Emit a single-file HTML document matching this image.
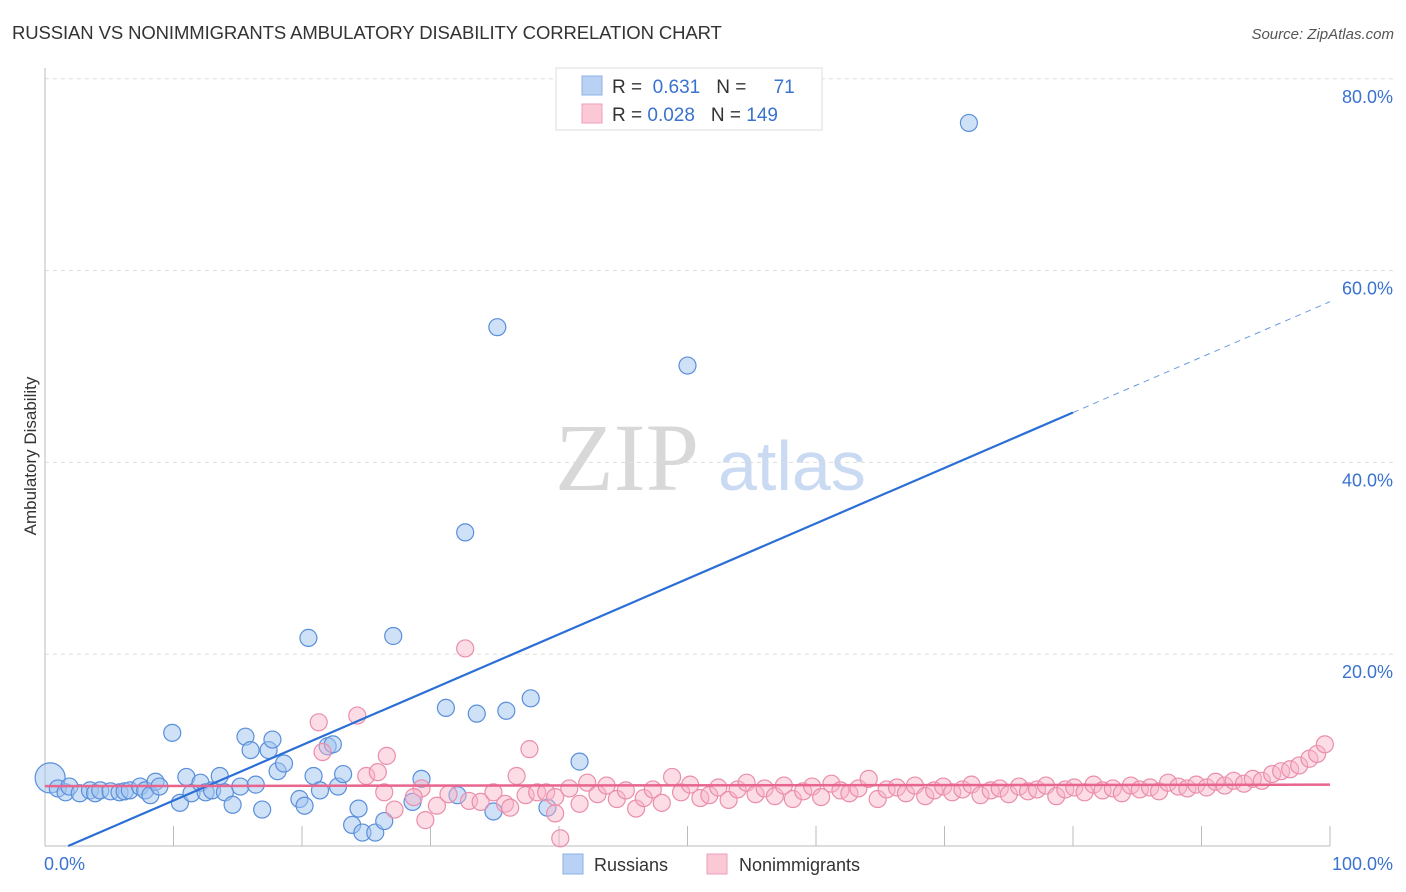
<!DOCTYPE html>
<html><head><meta charset="utf-8"><style>
body{margin:0;background:#fff;font-family:"Liberation Sans",sans-serif}
#c{position:relative;width:1406px;height:892px;overflow:hidden}
</style></head><body>
<div id="c">
<svg id="s" width="1406" height="892" xmlns="http://www.w3.org/2000/svg">
<text x="12" y="39" font-size="18.5" fill="#333" letter-spacing="-0.1">RUSSIAN VS NONIMMIGRANTS AMBULATORY DISABILITY CORRELATION CHART</text>
<text x="1394" y="39" font-size="15" fill="#555" font-style="italic" text-anchor="end">Source: ZipAtlas.com</text>
<text x="555" y="490" font-size="96" font-family="Liberation Serif,serif" fill="#d8d8d8">ZIP</text>
<text x="718" y="490" font-size="70" fill="#c9daf2">atlas</text>
<g id="grid"></g><g id="axes"></g><g id="pts"></g><g id="lines"></g>
<text x="36" y="456" font-size="17" fill="#333" transform="rotate(-90 36 456)" text-anchor="middle">Ambulatory Disability</text>
<g>
<rect x="556" y="68" width="266" height="62" fill="#fff" stroke="#ddd"/>
<rect x="582" y="76" width="20" height="19" fill="#b9d2f3" stroke="#8cb0e6"/>
<rect x="582" y="104" width="20" height="19" fill="#fbc8d6" stroke="#ef9fb8"/>
<text x="612" y="93" font-size="19" fill="#333">R = <tspan fill="#3a72d0">&#160;0.631</tspan><tspan dx="16">N = </tspan><tspan fill="#3a72d0" dx="22">71</tspan></text>
<text x="612" y="121" font-size="19" fill="#333">R = <tspan fill="#3a72d0">0.028</tspan><tspan dx="16">N = </tspan><tspan fill="#3a72d0">149</tspan></text>
</g>
<g>
<rect x="563" y="854" width="20" height="20" fill="#b9d2f3" stroke="#8cb0e6"/>
<text x="594" y="871" font-size="18" fill="#333">Russians</text>
<rect x="707" y="854" width="20" height="20" fill="#fbc8d6" stroke="#ef9fb8"/>
<text x="739" y="871" font-size="18" fill="#333">Nonimmigrants</text>
</g>
<text x="44" y="870" font-size="18" fill="#3a72d0">0.0%</text>
<text x="1393" y="870" font-size="18" fill="#3a72d0" text-anchor="end">100.0%</text>
</svg>
</div>
<script>
const yTicks=[20,40,60,80];
const yTickLabels=["20.0%","40.0%","60.0%","80.0%"];
const blueX=[0.4,1.0,1.6,1.9,2.7,3.5,3.9,4.3,5.1,5.8,6.2,6.6,7.4,7.8,8.2,8.6,8.9,9.9,10.5,11.0,11.4,12.1,12.5,13.0,13.6,14.0,14.6,15.2,15.6,16.0,16.4,16.9,17.4,17.7,18.1,18.6,19.8,20.2,20.5,20.9,21.4,22.0,22.4,22.8,23.2,23.9,24.4,24.7,25.7,26.4,27.1,28.6,29.3,31.2,32.1,32.7,33.6,34.9,35.2,35.9,37.8,39.1,41.6,50.0,71.9];
const blueY=[7.1,6.0,5.6,6.2,5.5,5.8,5.5,5.8,5.7,5.6,5.7,5.8,6.2,5.8,5.3,6.7,6.2,11.8,4.5,7.2,5.5,6.6,5.6,5.8,7.3,5.6,4.3,6.2,11.4,10.0,6.4,3.8,10.0,11.1,7.8,8.6,4.9,4.2,21.7,7.3,5.8,10.4,10.6,6.2,7.5,2.2,3.9,1.4,1.4,2.6,21.9,4.6,7.0,14.4,5.3,32.7,13.8,3.6,54.1,14.1,15.4,4.0,8.8,50.1,75.4];
const pinkX=[21.3,24.3,21.6,26.6,25.0,25.9,26.4,27.2,29.3,28.7,29.6,30.5,31.4,32.7,33.0,33.9,34.9,35.8,36.2,36.7,37.7,37.4,38.3,39.0,39.7,39.7,40.1,40.8,41.6,42.2,43,43.7,44.5,45.2,46,46.6,47.3,48,48.8,49.5,50.2,51,51.7,52.4,53.2,53.9,54.6,55.3,56,56.8,57.5,58.2,59,59.7,60.4,61.2,61.9,62.6,63.3,64.1,64.8,65.5,66.3,67,67.7,68.5,69.2,69.9,70.6,71.4,72.1,72.8,73.6,74.3,75,75.8,76.5,77.2,77.9,78.7,79.4,80.1,80.9,81.6,82.3,83.1,83.8,84.5,85.2,86,86.7,87.4,88.2,88.9,89.6,90.4,91.1,91.8,92.5,93.3,94,94.7,95.5,96.2,96.9,97.6,98.4,99,99.6];
const pinkY=[12.9,13.6,9.8,9.4,7.3,7.7,5.6,3.8,6.0,5.1,2.7,4.2,5.4,20.6,4.7,4.6,5.6,4.4,4.0,7.3,10.1,5.3,5.6,5.6,5.1,3.4,0.8,6.0,4.4,6.6,5.4,6.3,4.9,5.8,3.9,5.0,5.9,4.5,7.2,5.6,6.4,5.0,5.3,6.1,4.8,5.9,6.6,5.4,6.0,5.2,6.3,4.9,5.7,6.2,5.1,6.5,5.8,5.5,6.0,7.0,4.9,5.9,6.1,5.5,6.3,5.2,5.8,6.2,5.6,5.9,6.4,5.3,5.8,6.0,5.4,6.2,5.7,5.9,6.3,5.2,5.9,6.1,5.6,6.4,5.8,6.0,5.5,6.3,5.9,6.1,5.7,6.6,6.2,6.0,6.4,6.1,6.7,6.3,6.8,6.5,7.0,6.8,7.5,7.8,8.0,8.4,9.1,9.6,10.6];
const blueFit=[-1.04,0.578];
const pinkFit=[6.25,0.0015];
const X=v=>45+v*12.85, Y=v=>846-v*9.59;
const NS="http://www.w3.org/2000/svg";
function mk(tag,attrs,parent){const e=document.createElementNS(NS,tag);for(const k in attrs)e.setAttribute(k,attrs[k]);document.getElementById(parent).appendChild(e);return e;}
yTicks.forEach((t,i)=>{
 const l=mk('line',{x1:45,x2:1395,y1:Y(t),y2:Y(t),stroke:'#ddd','stroke-dasharray':'4,4'},'grid');
 
 
 const tx=mk('text',{x:1393,y:Y(t)+24,'font-size':18,fill:'#3a72d0','text-anchor':'end'},'grid');
 tx.textContent=yTickLabels[i];
 
 
});
let a=mk('line',{x1:45,x2:45,y1:68,y2:846,stroke:'#bbb'},'axes');


a=mk('line',{x1:45,x2:1330,y1:846,y2:846,stroke:'#bbb'},'axes');


for(let i=1;i<=10;i++){const t=mk('line',{x1:X(i*10),x2:X(i*10),y1:826,y2:846,stroke:'#bbb'},'axes');
 
 }
blueX.forEach((x,i)=>{const c=mk('circle',{cx:X(x),cy:Y(blueY[i]),r:i==0?15:8.5,fill:'rgba(160,196,240,0.5)',stroke:'#5a8fdb','stroke-width':1.2},'pts');
 
 });
pinkX.forEach((x,i)=>{const c=mk('circle',{cx:X(x),cy:Y(pinkY[i]),r:8.5,fill:'rgba(248,180,200,0.45)',stroke:'#ea8eab','stroke-width':1.2},'pts');
 
 });
const bx0=-blueFit[0]/blueFit[1];
let ln=mk('line',{x1:X(bx0),y1:Y(0),x2:X(80),y2:Y(blueFit[0]+blueFit[1]*80),stroke:'#2b6fd6','stroke-width':2.2},'lines');


ln=mk('line',{x1:X(80),y1:Y(blueFit[0]+blueFit[1]*80),x2:X(100),y2:Y(blueFit[0]+blueFit[1]*100),stroke:'#6a9be0','stroke-width':1,'stroke-dasharray':'6,5'},'lines');


ln=mk('line',{x1:X(0),y1:Y(pinkFit[0]),x2:X(100),y2:Y(pinkFit[0]+pinkFit[1]*100),stroke:'#e8658e','stroke-width':2.5},'lines');


</script>
</body></html>
